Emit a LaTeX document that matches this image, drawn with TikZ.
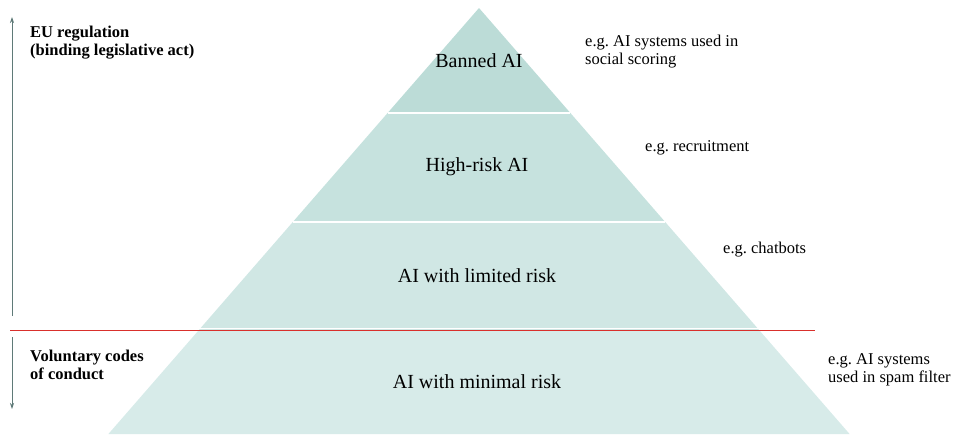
\documentclass[tikz,border=0pt]{standalone}
\usepackage{fontspec}
\setmainfont{Liberation Serif}
\usetikzlibrary{arrows.meta}
\frenchspacing
\definecolor{bandA}{HTML}{BCDCD7}
\definecolor{bandB}{HTML}{C6E2DE}
\definecolor{bandC}{HTML}{D0E7E4}
\definecolor{bandD}{HTML}{D7EBE9}
\definecolor{arrowc}{HTML}{5F7A78}
\definecolor{redline}{HTML}{D9302C}
\tikzset{
  tierlabel/.style={font=\fontsize{20}{24}\selectfont, inner sep=0pt},
  example/.style={font=\fontsize{16.5}{18}\selectfont, align=left, anchor=north west, inner sep=0pt},
  sidelabel/.style={font=\bfseries\fontsize{16.5}{18}\selectfont, align=left, anchor=north west, inner sep=0pt},
  axis/.style={draw=arrowc, line width=0.8pt, -{Stealth[length=6pt,width=4pt]}},
  sep/.style={white, line width=1.2pt}
}
\begin{document}
\begin{tikzpicture}[x=1pt,y=-1pt]
\useasboundingbox (0,0) rectangle (955,434);
% bands
\fill[bandD] (198.9,330) -- (759.1,330) -- (849.6,434) -- (108.4,434) -- cycle;
\fill[bandC] (292.8,222) -- (665.2,222) -- (759.1,330) -- (198.9,330) -- cycle;
\fill[bandB] (387.6,113) -- (570.4,113) -- (665.2,222) -- (292.8,222) -- cycle;
\fill[bandA] (479,8) -- (570.4,113) -- (387.6,113) -- cycle;
\draw[sep] (387.6,113) -- (570.4,113);
\draw[sep] (292.8,222) -- (665.2,222);
\draw[sep] (198.9,328.5) -- (759.1,328.5);
% red divider
\coordinate (rl) at (10,330);
\coordinate (rr) at (815,330);
\draw[redline, line width=0.8pt] (rl) -- (rr);
% tier labels
\node[tierlabel] (banned) at (479,61) {Banned AI};
\node[tierlabel] (high) at (477,167) {High-risk AI};
\node[tierlabel] (limited) at (477,276) {AI with limited risk};
\node[tierlabel] (minimal) at (477,382) {AI with minimal risk};
% examples
\node[example] (ex1) at (585,35) {e.g. AI systems used in\\social scoring};
\node[example] (ex2) at (645,140) {e.g. recruitment};
\node[example] (ex3) at (723,242) {e.g. chatbots};
\node[example] (ex4) at (828,353) {e.g. AI systems\\used in spam filter};
% side labels
\node[sidelabel] (eu) at (30,26) {EU regulation\\(binding legislative act)};
\node[sidelabel] (vol) at (30,350) {Voluntary codes\\of conduct};
% axes
\coordinate (upS) at (12,316);
\coordinate (upE) at (12,17);
\coordinate (dnS) at (12,337);
\coordinate (dnE) at (12,409);
\draw[axis] (upS) -- (upE);
\draw[axis] (dnS) -- (dnE);
\end{tikzpicture}
\end{document}
